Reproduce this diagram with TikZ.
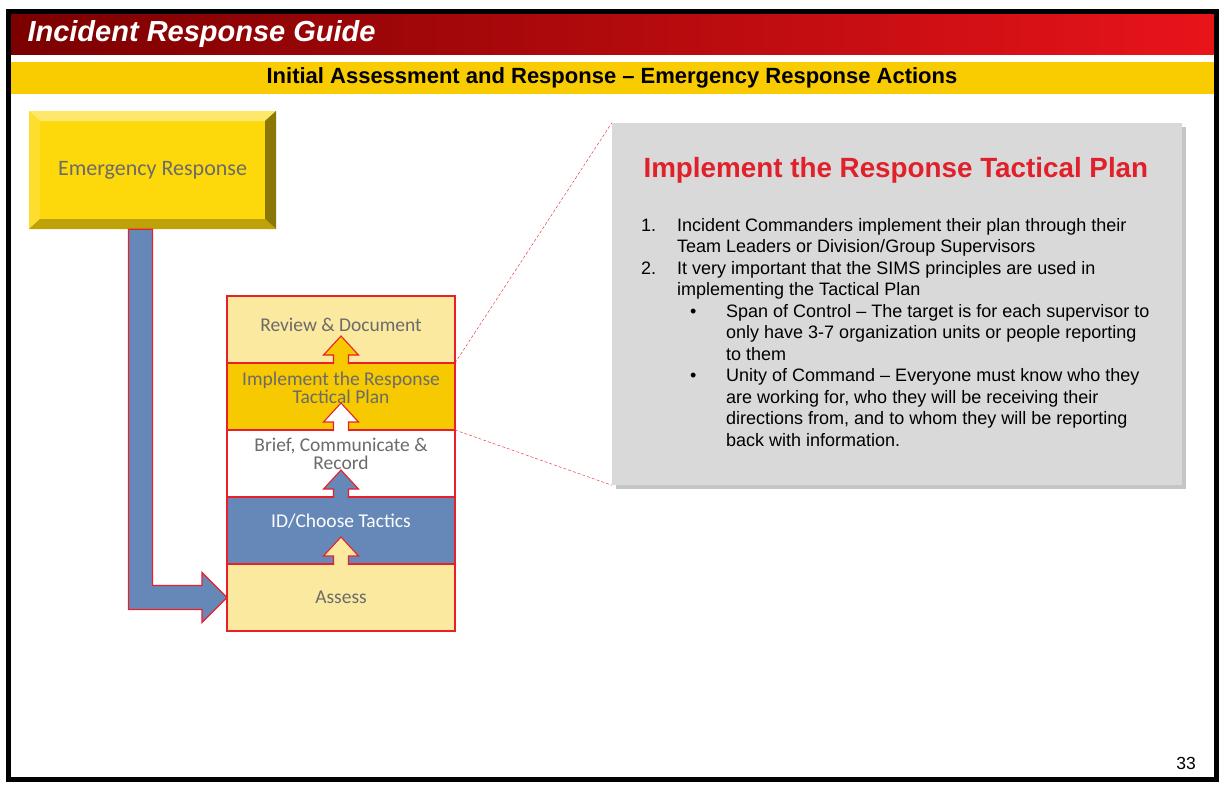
\documentclass[tikz,border=0pt]{standalone}
\usepackage{xcolor}
\usepackage{fontspec}
\setmainfont{Liberation Sans}
\newfontfamily\cand{Carlito}
\usepackage{tikz}
\usetikzlibrary{arrows.meta, positioning, calc, shadows}

\definecolor{hdrdark}{HTML}{7B0000}
\definecolor{hdrbright}{HTML}{E8141A}
\definecolor{baryellow}{HTML}{F8CC00}
\definecolor{ergold}{HTML}{FDD80A}
\definecolor{lightfill}{HTML}{FBE9A0}
\definecolor{implfill}{HTML}{F6C900}
\definecolor{bluefill}{HTML}{6688B8}
\definecolor{panelgray}{HTML}{D9D9D9}
\definecolor{titlered}{HTML}{E0202A}
\definecolor{labelgray}{HTML}{6B6B6B}
\definecolor{edgered}{HTML}{E8202A}

\newcommand{\lstack}[1]{\begin{tabular}[t]{@{}l@{}}#1\end{tabular}}

\pgfdeclarelayer{bg}
\pgfdeclarelayer{boxes}
\pgfsetlayers{bg,boxes,main}

\begin{document}
\begin{tikzpicture}[
  x=1pt, y=-1pt,
  erbox/.style={rectangle, minimum width=247pt, minimum height=118pt, inner sep=0pt, fill=ergold, text=labelgray, font=\cand\fontsize{22}{24}\selectfont,
    path picture={
      \fill[ergold!60!white] (path picture bounding box.north west) -- (path picture bounding box.north east) -- ([xshift=-11pt,yshift=-10pt]path picture bounding box.north east) -- ([xshift=11pt,yshift=-10pt]path picture bounding box.north west) -- cycle;
      \fill[ergold!85!white] (path picture bounding box.north west) -- ([xshift=11pt,yshift=-10pt]path picture bounding box.north west) -- ([xshift=11pt,yshift=10pt]path picture bounding box.south west) -- (path picture bounding box.south west) -- cycle;
      \fill[ergold!55!black] (path picture bounding box.north east) -- ([xshift=-11pt,yshift=-10pt]path picture bounding box.north east) -- ([xshift=-11pt,yshift=10pt]path picture bounding box.south east) -- (path picture bounding box.south east) -- cycle;
      \fill[ergold!75!black] (path picture bounding box.south west) -- ([xshift=11pt,yshift=10pt]path picture bounding box.south west) -- ([xshift=-11pt,yshift=10pt]path picture bounding box.south east) -- (path picture bounding box.south east) -- cycle;
    }},
  row/.style={rectangle, draw=edgered, line width=1.1pt, minimum width=228pt, minimum height=67pt, inner sep=0pt, outer sep=0pt},
  rowlabel/.style={align=center, inner sep=0pt, font=\cand\fontsize{19.5}{18}\selectfont, text=labelgray},
  smallarrow/.style={draw=edgered, line width=1.1pt, line join=miter},
  bigarrow/.style={draw=edgered, line width=1.1pt, fill=bluefill, line join=miter},
  zoomline/.style={draw=edgered, line width=0.4pt, densely dashed},
  listtext/.style={anchor=base west, inner sep=0pt, font=\fontsize{18}{21.5}\selectfont}
]
\useasboundingbox (0,0) rectangle (1224,792);
\begin{pgfonlayer}{bg}
\fill[white] (0,0) rectangle (1224,792);
\end{pgfonlayer}

\fill[left color=hdrdark, right color=hdrbright] (11,14) rectangle (1214,55);
\node[anchor=west, text=white, font=\fontsize{29}{30}\selectfont\bfseries\itshape] (guide) at (24,34) {Incident Response Guide};
\fill[baryellow] (11,62) rectangle (1214,94);
\node[font=\fontsize{22}{24}\selectfont\bfseries] (section) at (612,78) {Initial Assessment and Response -- Emergency Response Actions};
\draw[line width=5pt] (8.5,11.5) rectangle (1216.5,779.5);

\node[erbox] (er) at (152.5,170) {Emergency Response};

\begin{pgfonlayer}{boxes}
\node[row, fill=lightfill] (review) at (341,329.5) {};
\node[row, fill=implfill, below=0pt of review] (impl) {};
\node[row, fill=white, below=0pt of impl] (brief) {};
\node[row, fill=bluefill, below=0pt of brief] (idct) {};
\node[row, fill=lightfill, below=0pt of idct] (assess) {};
\foreach \low/\col in {impl/implfill, brief/white, idct/bluefill, assess/lightfill}
  \draw[smallarrow, fill=\col] ($(\low.north)+(-7.5,1)$) -- ++(0,-9) -- ++(-10,0) -- ++(17.5,-19) -- ++(17.5,19) -- ++(-10,0) -- ++(0,9);
\end{pgfonlayer}

\node[rowlabel] (reviewtext) at ([yshift=5]review.center) {Review \& Document};
\node[rowlabel] (impltext) at ([yshift=8.5]impl.center) {Implement the Response\\Tactical Plan};
\node[rowlabel] (brieftext) at ([yshift=9.5]brief.center) {Brief, Communicate \&\\Record};
\node[rowlabel, text=white] (idcttext) at ([yshift=9]idct.center) {ID/Choose Tactics};
\node[rowlabel] (assesstext) at (assess.center) {Assess};

\draw[bigarrow] ($(er.south)+(-24,0)$) -- (er.south) -- ($(er.south|-assess.west)+(0,-12)$) -- ($(assess.west)+(-25,-12)$) -- ($(assess.west)+(-25,-25)$) -- (assess.west) -- ($(assess.west)+(-25,25)$) -- ($(assess.west)+(-25,12)$) -- ($(er.south|-assess.west)+(-24,12)$) -- cycle;

\node[rectangle, fill=panelgray, minimum width=570pt, minimum height=362pt, inner sep=0pt, drop shadow={shadow xshift=4pt, shadow yshift=-4pt, opacity=0.45, fill=gray}] (panel) at (897,304) {};
\draw[zoomline] (impl.north east) -- (panel.north west);
\draw[zoomline] (impl.south east) -- (panel.south west);

\node[anchor=west, text=titlered, font=\fontsize{27.8}{30}\selectfont\bfseries] (ptitle) at (640,170) {Implement the Response Tactical Plan};

\node[listtext] (n1) at (641,231) {1.};
\node[listtext] (t1) at (677,231) {\lstack{Incident Commanders implement their plan through their\\Team Leaders or Division/Group Supervisors}};
\node[listtext] (n2) at (641,274) {2.};
\node[listtext] (t2) at (677,274) {\lstack{It very important that the SIMS principles are used in\\implementing the Tactical Plan}};
\node[listtext] (b1) at (690,317) {\textbullet};
\node[listtext] (s1) at (726,317) {\lstack{Span of Control -- The target is for each supervisor to\\only have 3-7 organization units or people reporting\\to them}};
\node[listtext] (b2) at (690,381.5) {\textbullet};
\node[listtext] (s2) at (726,381.5) {\lstack{Unity of Command -- Everyone must know who they\\are working for, who they will be receiving their\\directions from, and to whom they will be reporting\\back with information.}};

\node[font=\fontsize{17.5}{19}\selectfont] (page) at (1186,763) {33};
\end{tikzpicture}
\end{document}
